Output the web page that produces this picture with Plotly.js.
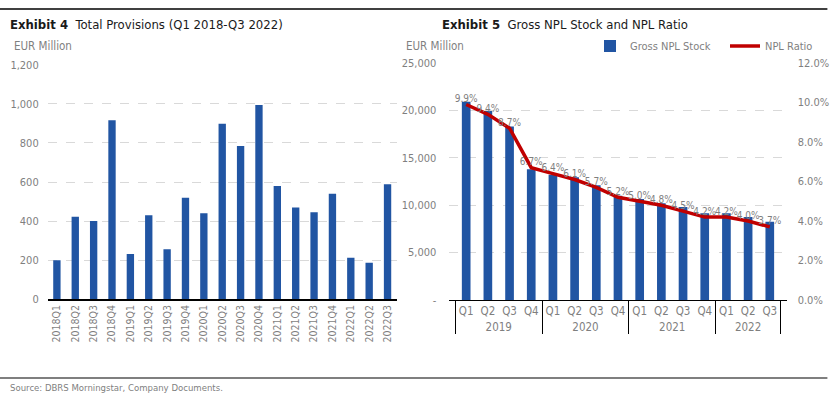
<!DOCTYPE html>
<html>
<head>
<meta charset="utf-8">
<script src="https://cdn.plot.ly/plotly-3.0.1.min.js"></script>
<style>html,body{margin:0;padding:0;background:#fff;}#chart{width:840px;height:397px;}</style>
</head>
<body>
<div id="chart"></div>
<script>
// ---- Data ----
const provCats = ['2018Q1','2018Q2','2018Q3','2018Q4','2019Q1','2019Q2','2019Q3','2019Q4','2020Q1','2020Q2','2020Q3','2020Q4','2021Q1','2021Q2','2021Q3','2021Q4','2022Q1','2022Q2','2022Q3'];
const provVals = [200,422,400,916,232,430,256,520,440,898,784,994,580,469,445,540,213,187,588];

const nplYears = ['2019','2019','2019','2019','2020','2020','2020','2020','2021','2021','2021','2021','2022','2022','2022'];
const nplQuarters = ['Q1','Q2','Q3','Q4','Q1','Q2','Q3','Q4','Q1','Q2','Q3','Q4','Q1','Q2','Q3'];
const nplStock = [20900,19950,18300,13800,13200,12950,12100,11000,10650,10200,9800,9150,9150,8750,8250];
const nplRatio = [9.9,9.4,8.7,6.7,6.4,6.1,5.7,5.2,5.0,4.8,4.5,4.2,4.2,4.0,3.7];

const leftTicks = [0,200,400,600,800,1000,1200];
const rightTicks = [0,5000,10000,15000,20000,25000];
const rightTickText = ['-','5,000','10,000','15,000','20,000','25,000'];
const ratioTicks = [0,2,4,6,8,10,12];
const ratioTickText = ['0.0%','2.0%','4.0%','6.0%','8.0%','10.0%','12.0%'];

// ---- Style ----
const FONT = "'DejaVu Sans Condensed','Liberation Sans Narrow',sans-serif";
const BLUE = '#2155a3';
const RED = '#c00000';
const GRAY = '#7f7f7f';
const GRID = '#d9d9d9';

const traces = [
  {
    type: 'bar', x: provCats, y: provVals, xaxis: 'x', yaxis: 'y',
    marker: {color: BLUE}, showlegend: false
  },
  {
    type: 'bar', x: [nplYears, nplQuarters], y: nplStock, xaxis: 'x2', yaxis: 'y2',
    name: 'Gross NPL Stock', marker: {color: BLUE}, legend: 'legend'
  },
  {
    type: 'scatter', mode: 'lines+text', x: [nplYears, nplQuarters], y: nplRatio,
    xaxis: 'x2', yaxis: 'y3', name: 'NPL Ratio', legend: 'legend2',
    line: {color: RED, width: 3.5},
    text: nplRatio.map(v => v.toFixed(1) + '%'),
    textposition: 'top center',
    textfont: {family: FONT, size: 10, color: GRAY},
    cliponaxis: false
  }
];

const legendBase = {
  orientation: 'h', y: 1 - 46/397, xanchor: 'left', yanchor: 'middle',
  font: {family: FONT, size: 11, color: GRAY}, itemwidth: 30,
  bgcolor: 'rgba(0,0,0,0)', borderwidth: 0
};

const layout = {
  width: 840, height: 397,
  margin: {l: 0, r: 0, t: 0, b: 0},
  paper_bgcolor: '#fff', plot_bgcolor: 'rgba(0,0,0,0)',
  font: {family: FONT, size: 11, color: GRAY},
  bargap: 0.6,
  showlegend: true,
  legend: Object.assign({}, legendBase, {x: 590/840}),
  legend2: Object.assign({}, legendBase, {x: 725/840}),
  xaxis: {
    domain: [0.0568, 0.4723], type: 'category', anchor: 'y',
    tickangle: -90, showline: true, linecolor: '#000', linewidth: 1.5,
    ticks: '', showgrid: false, tickfont: {family: FONT, size: 10.5, color: GRAY}
  },
  yaxis: {
    domain: [0.2461, 0.837], range: [0, 1200], anchor: 'x',
    tickvals: leftTicks, tickformat: ',d', showline: false, zeroline: false,
    gridcolor: GRID, griddash: 'dash', ticks: '', ticklabelstandoff: 8,
    tickfont: {family: FONT, size: 11, color: GRAY}
  },
  xaxis2: {
    domain: [0.5349, 0.9365], type: 'multicategory', anchor: 'y2',
    showline: true, linecolor: '#000', linewidth: 1, ticks: '', tickangle: 0,
    showdividers: true, dividercolor: '#000', dividerwidth: 1,
    showgrid: false, tickfont: {family: FONT, size: 11.5, color: GRAY}
  },
  yaxis2: {
    domain: [0.2443, 0.8413], range: [0, 25000], anchor: 'x2',
    tickvals: rightTicks, ticktext: rightTickText, showline: false, zeroline: false,
    gridcolor: GRID, griddash: 'dash', ticks: '', ticklabelstandoff: 12,
    tickfont: {family: FONT, size: 11, color: GRAY}
  },
  yaxis3: {
    domain: [0.2443, 0.8413], range: [0, 12], overlaying: 'y2', side: 'right', anchor: 'x2',
    tickvals: ratioTicks, ticktext: ratioTickText, showgrid: false, zeroline: false,
    showline: false, ticks: '', ticklabelstandoff: 10,
    tickfont: {family: FONT, size: 11, color: GRAY}
  },
  shapes: [
    {type: 'line', xref: 'paper', yref: 'paper', x0: 0, x1: 0.985, y0: 1 - 9/397, y1: 1 - 9/397, line: {color: '#000', width: 1.5}},
    {type: 'line', xref: 'paper', yref: 'paper', x0: 0, x1: 0.985, y0: 1 - 378/397, y1: 1 - 378/397, line: {color: '#000', width: 1.2}}
  ],
  annotations: [
    {xref: 'paper', yref: 'paper', x: 8/840, y: 1 - 25/397, xanchor: 'left', yanchor: 'middle', showarrow: false,
     text: '<b>Exhibit 4</b>  Total Provisions (Q1 2018-Q3 2022)', font: {family: FONT, size: 13, color: '#1a1a1a'}},
    {xref: 'paper', yref: 'paper', x: 440/840, y: 1 - 25/397, xanchor: 'left', yanchor: 'middle', showarrow: false,
     text: '<b>Exhibit 5</b>  Gross NPL Stock and NPL Ratio', font: {family: FONT, size: 13, color: '#1a1a1a'}},
    {xref: 'paper', yref: 'paper', x: 12/840, y: 1 - 46/397, xanchor: 'left', yanchor: 'middle', showarrow: false,
     text: 'EUR Million', font: {family: FONT, size: 11.5, color: GRAY}},
    {xref: 'paper', yref: 'paper', x: 404/840, y: 1 - 46/397, xanchor: 'left', yanchor: 'middle', showarrow: false,
     text: 'EUR Million', font: {family: FONT, size: 11.5, color: GRAY}},
    {xref: 'paper', yref: 'paper', x: 8/840, y: 1 - 387/397, xanchor: 'left', yanchor: 'middle', showarrow: false,
     text: 'Source: DBRS Morningstar, Company Documents.', font: {family: FONT, size: 9.5, color: GRAY}}
  ]
};

Plotly.newPlot('chart', traces, layout, {displayModeBar: false, staticPlot: true});
</script>
</body>
</html>
